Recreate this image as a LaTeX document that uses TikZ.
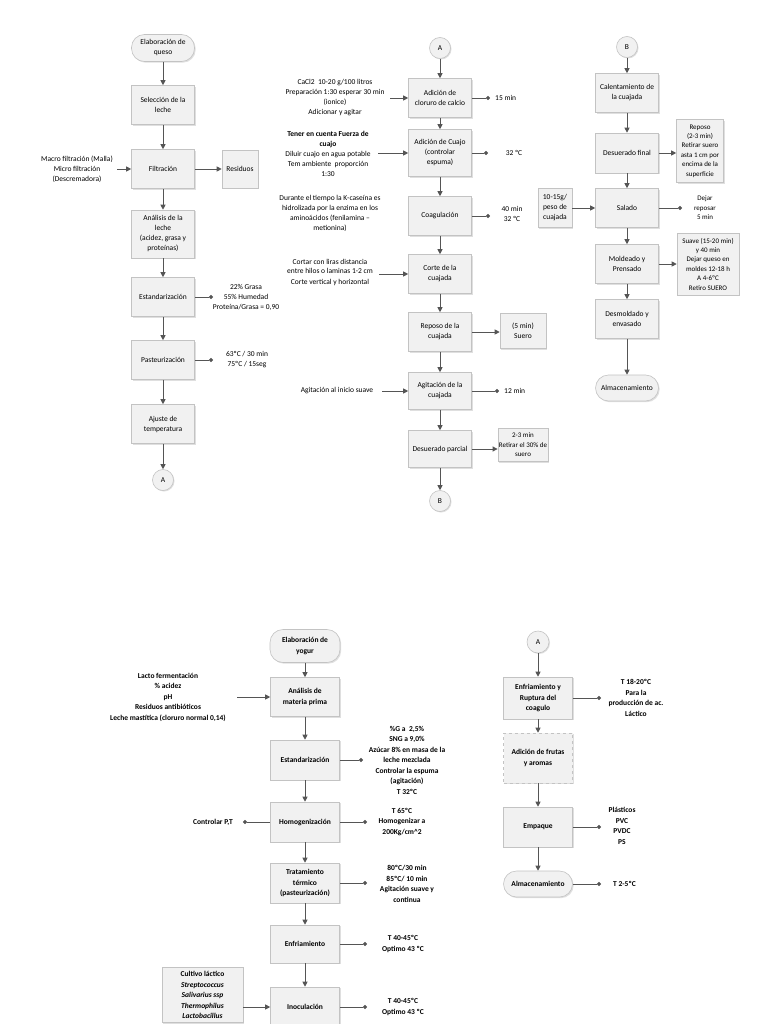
\documentclass[tikz,border=0pt]{standalone}
\usepackage{fontspec}
\setmainfont{Carlito}
\usetikzlibrary{arrows.meta,shadows}
\definecolor{lc}{RGB}{85,85,85}
\definecolor{bd}{RGB}{195,195,195}
\definecolor{bf}{RGB}{241,241,241}
\tikzset{
 base/.style={font=\fontsize{7.5}{10}\selectfont, align=center, inner sep=1pt},
 pbox/.style={base, draw=bd, fill=bf, line width=0.6pt, minimum width=63pt, minimum height=39pt,
   drop shadow={opacity=0.25, shadow xshift=1.2pt, shadow yshift=-1.2pt}},
 term/.style={pbox, rounded corners=13pt, minimum height=27pt},
 conn/.style={base, circle, draw=bd, fill=bf, line width=0.6pt, minimum size=21pt, inner sep=0pt,
   drop shadow={opacity=0.25, shadow xshift=1pt, shadow yshift=-1pt}},
 note/.style={base},
 small/.style={font=\fontsize{7}{9.4}\selectfont},
 yg/.style={font=\fontsize{7.5}{10.5}\selectfont\bfseries},
 arr/.style={draw=lc, line width=0.8pt, -{Triangle[length=5pt,width=5pt]}},
 dotl/.style={draw=lc, line width=0.8pt, -{Circle[length=4pt]}}
}
\begin{document}
\begin{tikzpicture}[x=1pt,y=-1pt]
\useasboundingbox (0,0) rectangle (768,1024);
\fill[white] (0,0) rectangle (768,1024);
\clip (0,0) rectangle (768,1024);

% ---------- queso: left column ----------
\node[term] (q0) at (163,48) {Elaboración de\\queso};
\node[pbox] (q1) at (163,105) {Selección de la\\leche};
\node[pbox] (q2) at (163,169) {Filtración};
\node[pbox, minimum width=36pt, minimum height=38pt] (q2r) at (240,169) {Residuos};
\node[note] (q2l) at (77,169) {Macro filtración (Malla)\\Micro filtración\\(Descremadora)};
\coordinate (q2a) at (117,169);
\node[pbox, minimum height=48pt] (q3) at (163,234) {Análisis de la\\leche\\(acidez, grasa y\\proteínas)};
\node[pbox] (q4) at (163,297) {Estandarización};
\coordinate (q4d) at (213,297);
\node[note] (q4n) at (246,297) {22\% Grasa\\55\% Humedad\\Proteína/Grasa = 0,90};
\node[pbox] (q5) at (163,360) {Pasteurización};
\coordinate (q5d) at (213,360);
\node[note] (q5n) at (247,360) {63ºC / 30 min\\75ºC / 15seg};
\node[pbox] (q6) at (163,424) {Ajuste de\\temperatura};
\node[conn] (qA) at (163,480) {A};

\draw[arr] (q0) -- (q1);
\draw[arr] (q1) -- (q2);
\draw[arr] (q2) -- (q2r);
\draw[arr] (q2a) -- (q2.west);
\draw[arr] (q2) -- (q3);
\draw[arr] (q3) -- (q4);
\draw[dotl] (q4.east) -- (q4d);
\draw[arr] (q4) -- (q5);
\draw[dotl] (q5.east) -- (q5d);
\draw[arr] (q5) -- (q6);
\draw[arr] (q6) -- (qA);

% ---------- queso: middle column ----------
\node[conn] (mA) at (440,48) {A};
\node[pbox] (m1) at (440,98) {Adición de\\cloruro de calcio};
\node[note] (m1l) at (335,98) {CaCl2\ \ 10-20 g/100 litros\\Preparación 1:30 esperar 30 min\\(ionice)\\Adicionar y agitar};
\coordinate (m1a) at (390,98);
\coordinate (m1d) at (490,98);
\node[note, anchor=west] (m1n) at (494,98) {15 min};
\node[pbox, minimum height=47pt] (m2) at (440,153) {Adición de Cuajo\\(controlar\\espuma)};
\node[note] (m2l) at (328,154) {\textbf{Tener en cuenta Fuerza de}\\\textbf{cuajo}\\Diluir cuajo en agua potable\\Tem ambiente\ \ proporción\\1:30};
\coordinate (m2a) at (378,153);
\coordinate (m2d) at (488,153);
\node[note] (m2n) at (514,153) {32 ºC};
\node[pbox] (m3) at (440,216) {Coagulación};
\node[note] (m3l) at (330,213) {Durante el tiempo la K-caseína es\\hidrolizada por la enzima en los\\aminoácidos (fenilamina –\\metionina)};
\coordinate (m3d) at (490,216);
\node[note] (m3n) at (512,214) {40 min\\32 ºC};
\node[pbox] (m4) at (440,274) {Corte de la\\cuajada};
\node[note] (m4l) at (330,272) {Cortar con liras distancia\\entre hilos o laminas 1-2 cm\\Corte vertical y horizontal};
\coordinate (m4a) at (379,274);
\node[pbox] (m5) at (440,332) {Reposo de la\\cuajada};
\node[pbox, minimum width=46pt, minimum height=35pt] (m5r) at (523,331) {(5 min)\\Suero};
\node[pbox, minimum height=37pt] (m6) at (440,391) {Agitación de la\\cuajada};
\node[note] (m6l) at (337,391) {Agitación al inicio suave};
\coordinate (m6a) at (382,391);
\coordinate (m6d) at (499,391);
\node[note, anchor=west] (m6n) at (503,391) {12 min};
\node[pbox, minimum height=37pt] (m7) at (440,449) {Desuerado parcial};
\node[pbox, small, minimum width=46pt, minimum height=33pt] (m7r) at (523,445) {2-3 min\\Retirar el 30\% de\\suero};
\node[conn] (mB) at (440,501) {B};

\draw[arr] (mA) -- (m1);
\draw[arr] (m1a) -- (m1.west);
\draw[dotl] (m1.east) -- (m1d);
\draw[arr] (m1) -- (m2);
\draw[arr] (m2a) -- (m2.west);
\draw[dotl] (m2.east) -- (m2d);
\draw[arr] (m2) -- (m3);
\draw[dotl] (m3.east) -- (m3d);
\draw[arr] (m3) -- (m4);
\draw[arr] (m4a) -- (m4.west);
\draw[arr] (m4) -- (m5);
\draw[arr] (m5.east) -- (m5.east -| m5r.west);
\draw[arr] (m5) -- (m6);
\draw[arr] (m6a) -- (m6.west);
\draw[dotl] (m6.east) -- (m6d);
\draw[arr] (m6) -- (m7);
\draw[arr] (m7.east) -- (m7.east -| m7r.west);
\draw[arr] (m7) -- (mB);

% ---------- queso: right column ----------
\node[conn] (rB) at (627,47) {B};
\node[pbox] (r1) at (627,93) {Calentamiento de\\la cuajada};
\node[pbox, minimum height=40pt] (r2) at (627,153) {Desuerado final};
\node[pbox, small, minimum width=47pt, minimum height=63pt] (r2r) at (700,151) {Reposo\\(2-3 min)\\Retirar suero\\asta 1 cm por\\encima de la\\superficie};
\node[pbox] (r3) at (627,208) {Salado};
\node[pbox, minimum width=34pt, minimum height=39pt] (r3l) at (555,208) {10-15g/\\peso de\\cuajada};
\coordinate (r3d) at (682,208);
\node[note, small] (r3n) at (705,208) {Dejar\\reposar\\5 min};
\node[pbox] (r4) at (627,264) {Moldeado y\\Prensado};
\node[pbox, small, minimum width=62pt, minimum height=62pt] (r4r) at (708,264) {Suave (15-20 min)\\y 40 min\\Dejar queso en\\moldes 12-18 h\\A 4-6ºC\\Retiro SUERO};
\node[pbox] (r5) at (627,319) {Desmoldado y\\envasado};
\node[term, minimum height=26pt] (r6) at (627,388) {Almacenamiento};

\draw[arr] (rB) -- (r1);
\draw[arr] (r1) -- (r2);
\draw[arr] (r2.east) -- (r2.east -| r2r.west);
\draw[arr] (r2) -- (r3);
\draw[arr] (r3l) -- (r3);
\draw[dotl] (r3.east) -- (r3d);
\draw[arr] (r3) -- (r4);
\draw[arr] (r4) -- (r4r);
\draw[arr] (r4) -- (r5);
\draw[arr] (r5) -- (r6);

% ---------- yogur: left column ----------
\node[term, yg, minimum width=70pt, minimum height=33pt] (y0) at (305,646) {Elaboración de\\yogur};
\node[pbox, yg, minimum width=69pt] (y1) at (305,697) {Análisis de\\materia prima};
\node[note, yg] (y1l) at (168,697) {Lacto fermentación\\\% acidez\\pH\\Residuos antibióticos\\Leche mastítica (cloruro normal 0,14)};
\coordinate (y1a) at (237,697);
\node[pbox, yg, minimum width=69pt, minimum height=40pt] (y2) at (305,760) {Estandarización};
\coordinate (y2d) at (363,760);
\node[note, yg] (y2n) at (407,760) {\%G a\ \ 2,5\%\\SNG a 9,0\%\\Azúcar 8\% en masa de la\\leche mezclada\\Controlar la espuma\\(agitación)\\T 32ºC};
\node[pbox, yg, minimum width=69pt, minimum height=40pt] (y3) at (305,822) {Homogenización};
\coordinate (y3ld) at (243,822);
\node[note, yg] (y3l) at (213,822) {Controlar P,T};
\coordinate (y3d) at (367,822);
\node[note, yg] (y3n) at (402,822) {T 65ºC\\Homogenizar a\\200Kg/cm\^{}2};
\node[pbox, yg, minimum width=69pt, minimum height=40pt] (y4) at (305,883) {Tratamiento\\térmico\\(pasteurización)};
\coordinate (y4d) at (367,883);
\node[note, yg] (y4n) at (407,884) {80ºC/30 min\\85ºC/ 10 min\\Agitación suave y\\continua};
\node[pbox, yg, minimum width=69pt, minimum height=38pt] (y5) at (305,944) {Enfriamiento};
\coordinate (y5d) at (367,944);
\node[note, yg] (y5n) at (403,944) {T 40-45ºC\\Optimo 43 ºC};
\node[pbox, yg, minimum width=69pt, minimum height=40pt] (y6) at (305,1007) {Inoculación};
\coordinate (y6d) at (367,1007);
\node[note, yg] (y6n) at (403,1007) {T 40-45ºC\\Optimo 43 ºC};
\node[pbox, yg, minimum width=81pt, inner ysep=4pt, anchor=north] (y6l) at (202.5,967) {Cultivo láctico\\\textit{Streptococcus}\\\textit{Salivarius ssp}\\\textit{Thermophilus}\\\textit{Lactobacillus}};

\draw[arr] (y0) -- (y1);
\draw[arr] (y1a) -- (y1.west);
\draw[arr] (y1) -- (y2);
\draw[dotl] (y2.east) -- (y2d);
\draw[arr] (y2) -- (y3);
\draw[dotl] (y3.west) -- (y3ld);
\draw[dotl] (y3.east) -- (y3d);
\draw[arr] (y3) -- (y4);
\draw[dotl] (y4.east) -- (y4d);
\draw[arr] (y4) -- (y5);
\draw[dotl] (y5.east) -- (y5d);
\draw[arr] (y5) -- (y6);
\draw[dotl] (y6.east) -- (y6d);
\draw[arr] (y6l.east |- y6) -- (y6.west);

% ---------- yogur: right column ----------
\node[conn, minimum size=22pt] (yA) at (538,642) {A};
\node[pbox, yg, minimum width=69pt, minimum height=42pt] (z1) at (538,698) {Enfriamiento y\\Ruptura del\\coagulo};
\coordinate (z1d) at (601,698);
\node[note, yg] (z1n) at (636,698) {T 18-20ºC\\Para la\\producción de ac.\\Láctico};
\node[pbox, yg, dashed, minimum width=69pt, minimum height=50pt] (z2) at (538,758) {Adición de frutas\\y aromas};
\node[pbox, yg, minimum width=69pt, minimum height=40pt] (z3) at (538,827) {Empaque};
\coordinate (z3d) at (601,827);
\node[note, yg] (z3n) at (622,826) {Plásticos\\PVC\\PVDC\\PS};
\node[term, yg, minimum width=69pt, minimum height=26pt] (z4) at (538,884) {Almacenamiento};
\coordinate (z4d) at (601,884);
\node[note, yg, anchor=west] (z4n) at (612,884) {T 2-5ºC};

\draw[arr] (yA) -- (z1);
\draw[dotl] (z1.east) -- (z1d);
\draw[arr] (z1) -- (z2);
\draw[arr] (z2) -- (z3);
\draw[dotl] (z3.east) -- (z3d);
\draw[arr] (z3) -- (z4);
\draw[dotl] (z4.east) -- (z4d);
\end{tikzpicture}
\end{document}
